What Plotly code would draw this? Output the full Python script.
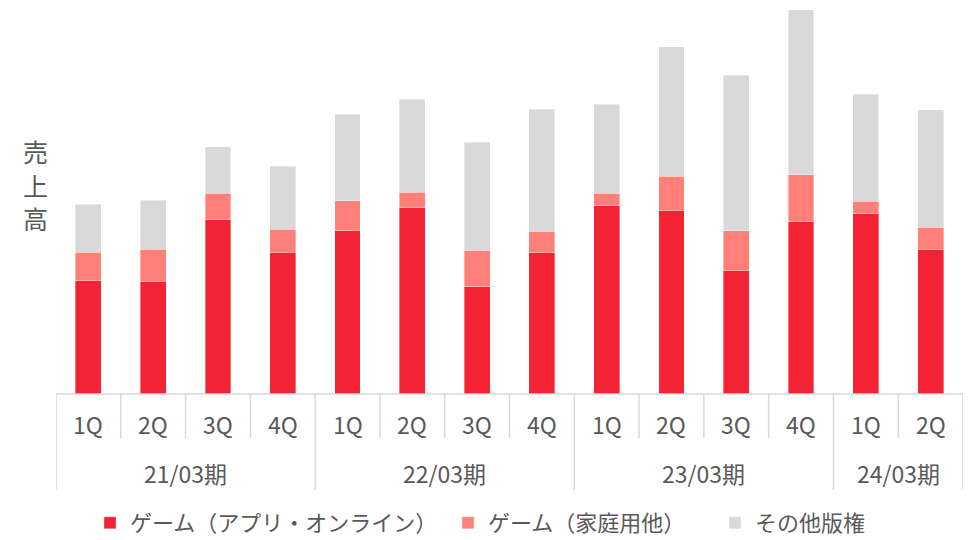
import plotly.graph_objects as go

years = ["21/03期"] * 4 + ["22/03期"] * 4 + ["23/03期"] * 4 + ["24/03期"] * 2
quarters = ["1Q", "2Q", "3Q", "4Q", "1Q", "2Q", "3Q", "4Q", "1Q", "2Q", "3Q", "4Q", "1Q", "2Q"]

game_app = [113.3, 113.0, 174.3, 141.7, 163.3, 186.3, 107.3, 141.3, 188.3, 183.7, 123.7, 172.3, 180.3, 144.3]
game_home = [28.7, 32.0, 26.7, 23.0, 30.0, 15.7, 36.7, 21.3, 12.3, 34.0, 39.7, 47.0, 12.7, 22.3]
other_rights = [47.7, 48.7, 46.3, 63.3, 86.7, 92.7, 107.7, 122.0, 89.3, 129.7, 155.3, 165.0, 107.0, 117.7]

series_names = ["ゲーム（アプリ・オンライン）", "ゲーム（家庭用他）", "その他版権"]
colors = ["#F42235", "#FF8079", "#D9D9D9"]
y_title = "売上高"

TEXT = "#595959"
LINE = "#D9D9D9"
FONT = "Noto Sans CJK JP"

idx = list(range(len(quarters)))
legend_ids = ["legend", "legend2", "legend3"]

PLOT_H = 394.0
L, R = 56, 963


def py(pix):
    return (PLOT_H - pix) / PLOT_H


def px(pix):
    return (pix - L) / (R - L)


fig = go.Figure()
for name, vals, col, lg in zip(series_names, [game_app, game_home, other_rights], colors, legend_ids):
    fig.add_trace(go.Bar(
        x=idx, y=vals, name=name, legend=lg,
        marker=dict(color=col, line=dict(color="rgba(255,255,255,0.6)", width=0.6)),
    ))

shapes = []
annotations = []

group_starts = [i for i in idx if i == 0 or years[i] != years[i - 1]]
bounds_year = group_starts + [len(idx)]

for b in range(len(idx) + 1):
    y_end = py(490) if b in bounds_year else py(438)
    shapes.append(dict(type="line", xref="x", yref="paper", x0=b - 0.5, x1=b - 0.5,
                       y0=0, y1=y_end, line=dict(color=LINE, width=1.5)))

shapes.append(dict(type="line", xref="paper", yref="paper", x0=0, x1=1, y0=0, y1=0,
                   line=dict(color=LINE, width=1.5)))

for i, q in zip(idx, quarters):
    annotations.append(dict(x=i, y=py(424), xref="x", yref="paper", text=q, showarrow=False,
                            font=dict(size=23, color=TEXT, family=FONT), xanchor="center", yanchor="middle"))

for s, e in zip(bounds_year[:-1], bounds_year[1:]):
    annotations.append(dict(x=(s + e - 1) / 2, y=py(473), xref="x", yref="paper", text=years[s],
                            showarrow=False, font=dict(size=23, color=TEXT, family=FONT),
                            xanchor="center", yanchor="middle"))

for ch, ypix in zip(y_title, [151, 185, 218]):
    annotations.append(dict(x=px(35), y=py(ypix), xref="paper", yref="paper", text=ch,
                            showarrow=False, font=dict(size=25, color=TEXT, family=FONT),
                            xanchor="center", yanchor="middle"))

legend_common = dict(orientation="h", xanchor="left", y=py(523), yanchor="middle",
                     font=dict(size=22, color=TEXT, family=FONT), itemwidth=30,
                     bgcolor="rgba(0,0,0,0)")
legend_square_x = [104, 462, 729]

fig.update_layout(
    width=969, height=540,
    margin=dict(l=L, r=969 - R, t=0, b=540 - int(PLOT_H), autoexpand=False),
    barmode="stack", bargap=0.6,
    plot_bgcolor="white", paper_bgcolor="white",
    font=dict(family=FONT, color=TEXT),
    xaxis=dict(range=[-0.5, len(idx) - 0.5], showticklabels=False, showgrid=False,
               zeroline=False, showline=False, ticks=""),
    yaxis=dict(range=[0, PLOT_H], visible=False),
    shapes=shapes, annotations=annotations,
    showlegend=True,
    legend=dict(legend_common, x=px(legend_square_x[0] - 14)),
    legend2=dict(legend_common, x=px(legend_square_x[1] - 14)),
    legend3=dict(legend_common, x=px(legend_square_x[2] - 14)),
)

fig.write_html(
    "out.html",
    config={"displayModeBar": False},
    post_script="document.body.style.margin='0';document.body.style.padding='0';document.body.style.overflow='hidden';",
)
